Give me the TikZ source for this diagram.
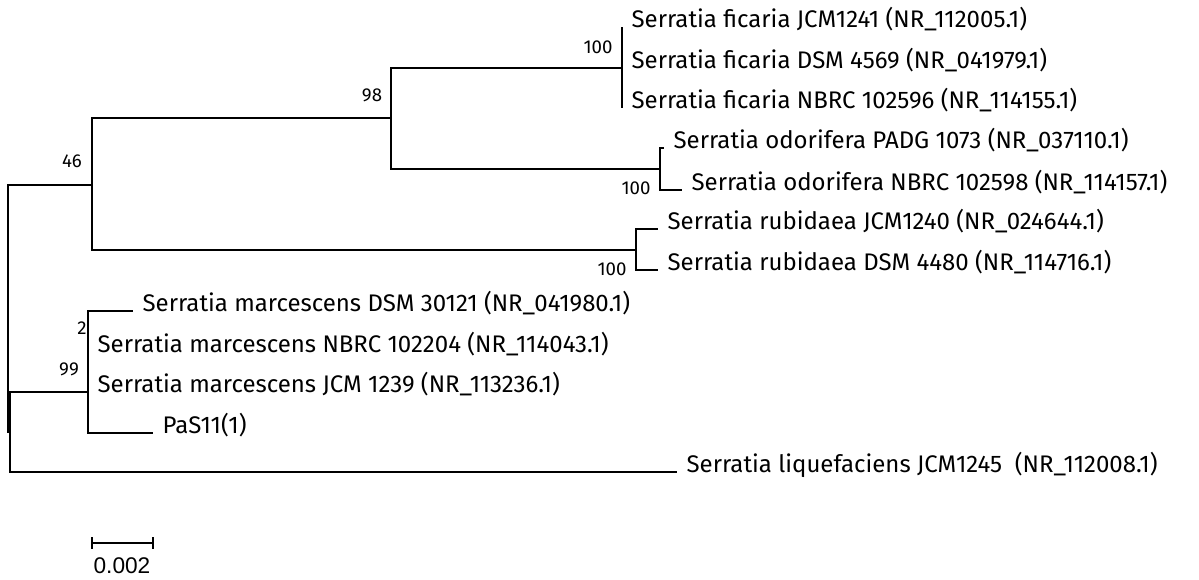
\documentclass[tikz,border=0pt]{standalone}
\usepackage{fontspec}
\setmainfont{Fira Sans}
\newfontfamily\barfont{Liberation Sans}
\usetikzlibrary{calc}

\tikzset{
  branch/.style={line width=1.3pt},
  taxon/.style={anchor=base west, inner sep=0pt, xshift=7pt, font=\fontsize{18}{21}\selectfont},
  boot/.style={inner sep=0pt, font=\fontsize{14}{16}\selectfont},
}

\begin{document}
\begin{tikzpicture}[x=0.75pt,y=-0.75pt]
\useasboundingbox (0,0) rectangle (1199,579);

% internal nodes
\coordinate (root) at (8,308);
\coordinate (n46) at (92,185);
\coordinate (n98) at (391,118);
\coordinate (nfic) at (622,68);
\coordinate (nodo) at (660,169);
\coordinate (nrub) at (636,250);
\coordinate (nsub) at (10,432);
\coordinate (n99) at (88,392);
\coordinate (n2) at (88,331);

% tips
\coordinate (tfic1) at (622,27);
\coordinate (tfic2) at (622,68);
\coordinate (tfic3) at (622,108);
\coordinate (todo1) at (664,148);
\coordinate (todo2) at (682,190);
\coordinate (trub1) at (658,229);
\coordinate (trub2) at (658,270);
\coordinate (tmar1) at (133,311);
\coordinate (tmar2) at (88,352);
\coordinate (tmar3) at (88,392);
\coordinate (tpas) at (153,433);
\coordinate (tliq) at (677,472);

% branches
\draw[branch] (root) |- (n46);
\draw[branch] (root) |- (nsub);
\draw[branch] (n46) |- (n98);
\draw[branch] (n46) |- (nrub);
\draw[branch] (n98) |- (nfic);
\draw[branch] (n98) |- (nodo);
\draw[branch] (tfic1) -- (tfic3);
\draw[branch] (nodo) |- (todo1);
\draw[branch] (nodo) |- (todo2);
\draw[branch] (nrub) |- (trub1);
\draw[branch] (nrub) |- (trub2);
\draw[branch] (nsub) |- (n99);
\draw[branch] (nsub) |- (tliq);
\draw[branch] (n99) |- (n2);
\draw[branch] (n99) |- (tpas);
\draw[branch] (n2) |- (tmar1);
\draw[branch] (n2) |- (tmar2);

% taxa
\node[taxon] (lfic1) at (tfic1) {Serratia ficaria JCM1241 (NR\_112005.1)};
\node[taxon] (lfic2) at (tfic2) {Serratia ficaria DSM 4569 (NR\_041979.1)};
\node[taxon] (lfic3) at (tfic3) {Serratia ficaria NBRC 102596 (NR\_114155.1)};
\node[taxon] (lodo1) at (todo1) {Serratia odorifera PADG 1073 (NR\_037110.1)};
\node[taxon] (lodo2) at (todo2) {Serratia odorifera NBRC 102598 (NR\_114157.1)};
\node[taxon] (lrub1) at (trub1) {Serratia rubidaea JCM1240 (NR\_024644.1)};
\node[taxon] (lrub2) at (trub2) {Serratia rubidaea DSM 4480 (NR\_114716.1)};
\node[taxon] (lmar1) at (tmar1) {Serratia marcescens DSM 30121 (NR\_041980.1)};
\node[taxon] (lmar2) at (tmar2) {Serratia marcescens NBRC 102204 (NR\_114043.1)};
\node[taxon] (lmar3) at (tmar3) {Serratia marcescens JCM 1239 (NR\_113236.1)};
\node[taxon] (lpas) at (tpas) {PaS11(1)};
\node[taxon] (lliq) at (tliq) {Serratia liquefaciens JCM1245\ \ (NR\_112008.1)};

% bootstrap values
\node[boot] (b46) at (72,161) {46};
\node[boot] (b98) at (372,95) {98};
\node[boot] (bfic) at (598,47) {100};
\node[boot] (bodo) at (636,188) {100};
\node[boot] (brub) at (612,269) {100};
\node[boot] (b2) at (82,328) {2};
\node[boot] (b99) at (69,369) {99};

% scale bar
\coordinate (sbl) at (92,543);
\coordinate (sbr) at (153,543);
\draw[line width=1.1pt] (sbl) -- (sbr);
\draw[line width=1.1pt] ($(sbl)+(0,-6)$) -- ($(sbl)+(0,6)$);
\draw[line width=1.1pt] ($(sbr)+(0,-6)$) -- ($(sbr)+(0,6)$);
\node[font=\barfont\fontsize{17}{19}\selectfont, inner sep=0pt] (sbtext) at (122,566) {0.002};
\end{tikzpicture}
\end{document}
